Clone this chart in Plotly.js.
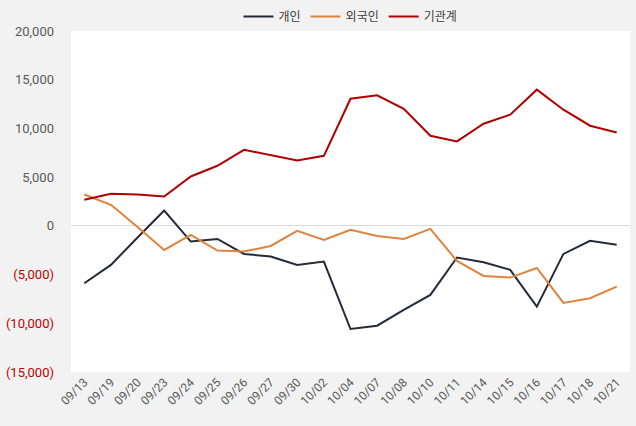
<!DOCTYPE html>
<html><head><meta charset="utf-8">
<script src="https://cdn.plot.ly/plotly-3.0.1.min.js"></script>
<style>html,body{margin:0;padding:0;background:#f2f2f2;}</style>
</head><body>
<div id="chart" style="width:636px;height:426px;"></div>
<script>
const dates = ["09/13","09/19","09/20","09/23","09/24","09/25","09/26","09/27","09/30","10/02","10/04","10/07","10/08","10/10","10/11","10/14","10/15","10/16","10/17","10/18","10/21"];
const individual = [-5890,-4010,-1200,1570,-1610,-1340,-2880,-3150,-4010,-3670,-10590,-10250,-8630,-7090,-3250,-3730,-4520,-8290,-2880,-1540,-1950];
const foreign = [3220,2160,-120,-2470,-925,-2540,-2640,-2060,-510,-1440,-410,-1030,-1340,-310,-3600,-5140,-5310,-4320,-7910,-7430,-6240];
const institution = [2670,3290,3220,3010,5070,6170,7810,7300,6720,7190,13050,13400,12020,9250,8670,10480,11410,13980,11920,10280,9590];
const seriesNames = ["개인","외국인","기관계"];
const yTickVals = [20000,15000,10000,5000,0,-5000,-10000,-15000];
const yTickText = ["20,000","15,000","10,000","5,000","0",
  '<span style="color:#c00000">(5,000)</span>',
  '<span style="color:#c00000">(10,000)</span>',
  '<span style="color:#c00000">(15,000)</span>'];

const colors = ["#232b38","#e0823d","#b00000"];
const data = [individual, foreign, institution].map((ys,i)=>({
  x: dates, y: ys, name: seriesNames[i], type: "scatter", mode: "lines",
  line: {color: colors[i], width: 2}
}));

const layout = {
  width: 636, height: 426,
  paper_bgcolor: "#f2f2f2", plot_bgcolor: "#ffffff",
  margin: {l: 71, r: 6, t: 31, b: 54, autoexpand: false},
  font: {family: "'Noto Sans CJK KR', 'Noto Sans', sans-serif", color: "#595959", size: 12},
  showlegend: true,
  legend: {orientation: "h", x: 0.5, xanchor: "center", y: 1.0, yanchor: "bottom",
    font: {size: 12, color: "#404040", family: "'Noto Sans CJK KR', sans-serif"}, bgcolor: "rgba(0,0,0,0)"},
  xaxis: {type: "category", range: [-0.5, dates.length - 0.5], autorange: false, automargin: false,
    tickangle: -45, showgrid: false, zeroline: false, showline: false,
    ticks: "", tickfont: {size: 12, color: "#595959", family: "Roboto, 'Noto Sans', sans-serif"}},
  yaxis: {range: [-15000, 20000], autorange: false, automargin: false,
    tickvals: yTickVals, ticktext: yTickText, showgrid: false,
    zeroline: true, zerolinecolor: "#d9d9d9", zerolinewidth: 1, showline: false, ticks: "",
    ticklabelstandoff: 16,
    tickfont: {size: 13, color: "#595959", family: "Roboto, 'Noto Sans', sans-serif"}}
};
Plotly.newPlot("chart", data, layout, {displayModeBar: false, staticPlot: true});
</script>
</body></html>
